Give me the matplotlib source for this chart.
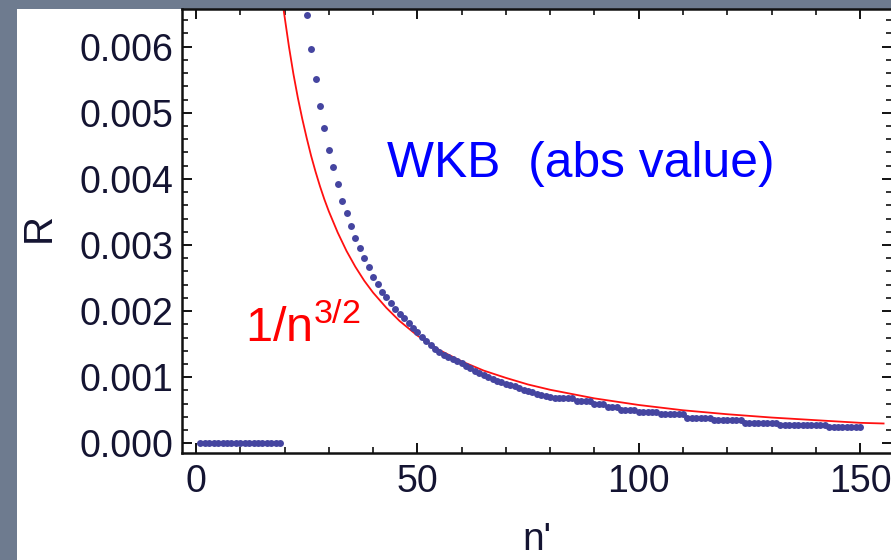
import matplotlib
matplotlib.use("Agg")
import matplotlib.pyplot as plt
from matplotlib.patches import Rectangle
from matplotlib.ticker import MultipleLocator, FormatStrFormatter

plt.rcParams['font.family'] = ['Liberation Sans', 'DejaVu Sans']
plt.rcParams['mathtext.fontset'] = 'custom'
plt.rcParams['mathtext.rm'] = 'Liberation Sans'
plt.rcParams['mathtext.default'] = 'regular'

# ---- data ----
wkb_n = [1, 2, 3, 4, 5, 6, 7, 8, 9, 10, 11, 12, 13, 14, 15, 16, 17, 18, 19,
         25, 26, 27, 28, 29, 30, 31, 32, 33, 34, 35, 36, 37, 38, 39, 40, 41, 42, 43, 44,
         45, 46, 47, 48, 49, 50, 51, 52, 53, 54, 55, 56, 57, 58, 59, 60, 61, 62, 63, 64,
         65, 66, 67, 68, 69, 70, 71, 72, 73, 74, 75, 76, 77, 78, 79, 80, 81, 82, 83, 84,
         85, 86, 87, 88, 89, 90, 91, 92, 93, 94, 95, 96, 97, 98, 99, 100, 101, 102, 103, 104,
         105, 106, 107, 108, 109, 110, 111, 112, 113, 114, 115, 116, 117, 118, 119, 120, 121, 122, 123, 124,
         125, 126, 127, 128, 129, 130, 131, 132, 133, 134, 135, 136, 137, 138, 139, 140, 141, 142, 143, 144,
         145, 146, 147, 148, 149, 150]
wkb_R = [0.0, 0.0, 0.0, 0.0, 0.0, 0.0, 0.0, 0.0, 0.0, 0.0, 0.0, 0.0, 0.0, 0.0, 0.0, 0.0, 0.0, 0.0, 0.0,
         0.00648, 0.00596, 0.00551, 0.00510, 0.00477, 0.00443, 0.00418, 0.00392, 0.00366, 0.00349,
         0.00329, 0.00311, 0.00296, 0.00281, 0.00266, 0.00251, 0.00241, 0.00229, 0.00222, 0.00213,
         0.00203, 0.00196, 0.00189, 0.00182, 0.00174,
         0.00168, 0.00161, 0.00155, 0.00149, 0.00143, 0.00138, 0.00134, 0.00131, 0.00128, 0.00124,
         0.00121, 0.00117, 0.00114, 0.00110, 0.00107, 0.00104, 0.00100, 0.00098, 0.00095, 0.00093,
         0.00090, 0.00088, 0.00086, 0.00083, 0.00081, 0.00079, 0.00077, 0.00075, 0.00073, 0.00072,
         0.00070, 0.00069,
         0.00068, 0.00068, 0.00068, 0.00068,
         0.00064, 0.00064, 0.00064, 0.00064,
         0.00060, 0.00060, 0.00060,
         0.00055, 0.00055, 0.00055,
         0.00051, 0.00051, 0.00051, 0.00051,
         0.00048, 0.00048, 0.00048, 0.00048, 0.00048,
         0.00044, 0.00044, 0.00044, 0.00044, 0.00044, 0.00044,
         0.00039, 0.00039, 0.00039, 0.00039, 0.00039, 0.00039,
         0.00036, 0.00036, 0.00036, 0.00036, 0.00036, 0.00036, 0.00036,
         0.00031, 0.00031, 0.00031, 0.00031, 0.00031, 0.00031, 0.00031, 0.00031,
         0.00028, 0.00028, 0.00028, 0.00028, 0.00028, 0.00028, 0.00028, 0.00028, 0.00028, 0.00028, 0.00028,
         0.00024, 0.00024, 0.00024, 0.00024, 0.00024, 0.00024, 0.00024, 0.00024]

fit_n = [19.7, 21, 22, 23, 24, 25, 26, 27, 28, 29, 30, 32, 34, 36, 38, 40, 43, 46, 50,
         55, 60, 65, 70, 75, 80, 90, 100, 110, 120, 130, 140, 150, 155.3]
fit_R = [0.00660, 0.00600, 0.00559, 0.00523, 0.00491, 0.00462, 0.00435, 0.00411, 0.00389,
         0.00369, 0.00351, 0.00319, 0.00291, 0.00267, 0.00246, 0.00228, 0.00205, 0.00185,
         0.00163, 0.00141, 0.00124, 0.00110, 0.00099, 0.00089, 0.00081, 0.00068, 0.00058,
         0.00050, 0.00044, 0.00039, 0.00035, 0.00031, 0.00030]

x_ticks = [0, 50, 100, 150]
y_ticks = [0.000, 0.001, 0.002, 0.003, 0.004, 0.005, 0.006]

W, H = 891, 560
fig = plt.figure(figsize=(W / 100, H / 100), dpi=100, facecolor='#6e7b8f')
fig.add_artist(Rectangle((17 / W, 0), 1 - 17 / W, (H - 9.3) / H,
                         transform=fig.transFigure, facecolor='white',
                         edgecolor='none', zorder=0))

ax = fig.add_axes([182.3 / W, (H - 453.3) / H, (892 - 182.3) / W, (453.3 - 9.3) / H])
ax.set_facecolor('white')

ax.plot(fit_n, fit_R, color='#ff1010', lw=1.3, zorder=2, clip_on=True)
ax.plot(wkb_n, wkb_R, linestyle='none', marker='o', markersize=5.0,
        markerfacecolor='#4545a0', markeredgecolor='none', zorder=3)

ax.set_xlim(-3.09, 157.2)
ax.set_ylim(-0.000151, 0.006566)
ax.set_xticks(x_ticks)
ax.set_yticks(y_ticks)
ax.xaxis.set_minor_locator(MultipleLocator(10))
ax.yaxis.set_minor_locator(MultipleLocator(0.0002))
ax.yaxis.set_major_formatter(FormatStrFormatter('%.3f'))

for s in ax.spines.values():
    s.set_linewidth(1.8)
    s.set_color('#111111')
ax.spines['right'].set_visible(False)

ax.tick_params(which='both', direction='in', top=True, right=True,
               color='#111111', labelcolor='#141432', labelsize=27)
ax.tick_params(which='major', length=7.2, width=1.4)
ax.tick_params(which='minor', length=4.2, width=1.2)
ax.tick_params(axis='y', pad=6.5)
ax.tick_params(axis='x', pad=8)

fig.text(39 / W, 1 - 227 / H, 'R', rotation=90, ha='center', va='center',
         fontsize=29, color='#141432')
fig.text(537 / W, 1 - 540 / H, "n'", ha='center', va='center',
         fontsize=28, color='#141432')

ax.text(386.7 / W, 1 - 177.3 / H, 'WKB  (abs value)', transform=fig.transFigure,
        ha='left', va='baseline', fontsize=35.8, color='#0000ff')
ax.text(245 / W, 1 - 342 / H, r'$1/n^{3/2}$', transform=fig.transFigure,
        ha='left', va='baseline', fontsize=35, color='#ff0000')

fig.savefig('out.png', dpi=100, facecolor=fig.get_facecolor())
